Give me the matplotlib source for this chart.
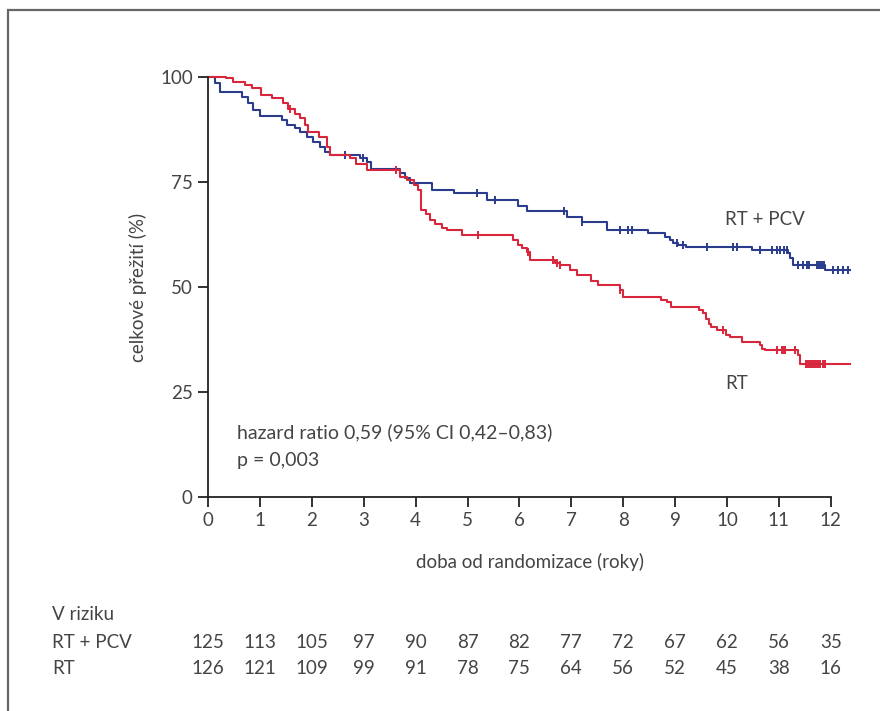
import numpy as np
import matplotlib
matplotlib.use("Agg")
import matplotlib.pyplot as plt
from matplotlib.transforms import blended_transform_factory
from matplotlib.patches import Rectangle

# Křivky přežití (čas v letech, přežití v %)
pcv_t = [0, 0.13, 0.23, 0.65, 0.78, 0.87, 1.00, 1.42, 1.52, 1.68, 1.77, 1.90, 2.03, 2.16,
         2.25, 2.35, 2.93, 3.06, 3.15, 3.70, 3.80, 3.89, 4.31, 4.73, 5.37, 5.98, 6.14, 6.91,
         7.20, 7.68, 8.47, 8.80, 8.90, 8.96, 9.05, 9.20, 10.48, 11.18, 11.22, 11.28, 11.88, 12.37]
pcv_s = [100, 98.5, 96.5, 95.3, 93.7, 92.1, 90.6, 89.8, 88.6, 87.8, 87.0, 85.8, 84.6, 83.4,
         82.2, 81.4, 80.6, 79.8, 78.2, 77.1, 75.9, 74.7, 73.1, 72.3, 70.7, 69.3, 68.0, 66.7,
         65.5, 63.6, 62.8, 62.0, 61.2, 60.4, 60.0, 59.6, 58.8, 58.0, 56.8, 55.2, 54.0, 54.0]
pcv_cens = [2.64, 2.99, 5.18, 5.53, 6.85, 7.20, 7.94, 8.10, 8.16, 9.03, 9.16, 9.61, 10.12,
            10.19, 10.64, 10.86, 10.96, 11.02, 11.09, 11.15, 11.37, 11.47, 11.54, 11.57,
            11.74, 11.77, 11.80, 11.83, 11.86, 12.05, 12.14, 12.24, 12.33]

rt_t = [0, 0.35, 0.49, 0.72, 0.85, 1.02, 1.24, 1.45, 1.55, 1.68, 1.77, 1.87, 1.93, 2.13,
        2.29, 2.35, 2.74, 2.86, 3.06, 3.70, 3.83, 3.96, 4.05, 4.10, 4.20, 4.28, 4.38, 4.50,
        4.60, 4.89, 5.88, 5.97, 6.05, 6.15, 6.20, 6.68, 6.78, 6.98, 7.10, 7.37, 7.52, 7.94,
        8.00, 8.72, 8.84, 8.93, 9.46, 9.54, 9.60, 9.65, 9.70, 9.80, 9.98, 10.06, 10.29,
        10.64, 10.68, 10.73, 11.37, 11.40, 12.37]
rt_s = [100, 99.7, 98.9, 98.1, 97.3, 95.7, 94.9, 93.7, 92.5, 91.3, 90.2, 88.6, 87.0, 85.8,
        83.4, 81.4, 80.6, 79.4, 77.9, 76.3, 75.5, 74.3, 73.0, 68.3, 67.3, 66.0, 64.9, 64.1,
        63.6, 62.4, 61.2, 60.0, 59.2, 58.4, 56.4, 55.6, 55.2, 54.0, 52.8, 51.5, 50.5, 49.3,
        47.7, 46.9, 46.5, 45.3, 44.5, 43.7, 42.5, 41.3, 40.5, 39.7, 38.5, 38.1, 36.9,
        36.1, 35.3, 34.9, 33.7, 31.7, 31.7]
rt_cens = [1.58, 3.63, 5.21, 6.17, 6.65, 6.72, 6.78, 7.94, 9.93, 10.96, 11.05, 11.09, 11.12,
           11.31, 11.52, 11.56, 11.60, 11.64, 11.68, 11.72, 11.76, 11.80, 11.84, 11.88]

# Počty pacientů v riziku
years = list(range(13))
risk_pcv = [125, 113, 105, 97, 90, 87, 82, 77, 72, 67, 62, 56, 35]
risk_rt = [126, 121, 109, 99, 91, 78, 75, 64, 56, 52, 45, 38, 16]

blue = '#2c3c8c'
red = '#d8263c'
txt = '#444444'
fs = 13.5

plt.rcParams['font.family'] = ['Lato', 'DejaVu Sans']
plt.rcParams['font.size'] = fs

W, H = 880, 711
fig = plt.figure(figsize=(W / 100, H / 100), dpi=100)

# rámeček kolem obrázku (pravý a dolní okraj mimo obrázek)
fig.patches.append(Rectangle((8 / W, -0.1), 1.1, (H - 10) / H + 0.1, transform=fig.transFigure,
                             fill=False, edgecolor='#666666', linewidth=1.6))

ax = fig.add_axes([208 / W, 1 - 497 / H, 643.6 / W, 420 / H])


def censor_levels(t, s, c):
    idx = np.searchsorted(t, c, side='right') - 1
    return np.asarray(s)[idx]


for t, s, c, col in [(pcv_t, pcv_s, pcv_cens, blue), (rt_t, rt_s, rt_cens, red)]:
    ax.step(t, s, where='post', color=col, linewidth=1.5, clip_on=False)
    ax.plot(c, censor_levels(t, s, c), linestyle='none', marker='|', markersize=6,
            markeredgewidth=1.4, color=col, clip_on=False)

ax.set_xlim(0, 12.4)
ax.set_ylim(0, 100)
ax.set_xticks(range(0, 13))
ax.set_yticks([0, 25, 50, 75, 100])
for side in ['top', 'right']:
    ax.spines[side].set_visible(False)
ax.spines['left'].set_bounds(0, 100)
ax.spines['bottom'].set_bounds(0, 12)
for side in ['left', 'bottom']:
    ax.spines[side].set_color('#222222')
    ax.spines[side].set_linewidth(1.3)
ax.tick_params(direction='out', length=7, width=1.3, color='#222222', labelcolor=txt,
               labelsize=fs, pad=4)

ax.set_ylabel('celkové přežití (%)', color=txt, fontsize=fs, labelpad=9)
ax.set_xlabel('doba od randomizace (roky)', color=txt, fontsize=fs, labelpad=17)

ax.text(9.96, 66, 'RT + PCV', color=txt, fontsize=fs, va='center')
ax.text(9.96, 27, 'RT', color=txt, fontsize=fs, va='center')
ax.text(0.56, 15.5, 'hazard ratio 0,59 (95% CI 0,42–0,83)', color=txt, fontsize=14, va='center')
ax.text(0.56, 8.8, 'p = 0,003', color=txt, fontsize=14, va='center')

# tabulka pacientů v riziku
tr = blended_transform_factory(ax.transData, fig.transFigure)
fig.text(52 / W, 1 - 615 / H, 'V riziku', color=txt, fontsize=fs, va='center')
fig.text(52 / W, 1 - 642 / H, 'RT + PCV', color=txt, fontsize=fs, va='center')
fig.text(52 / W, 1 - 668 / H, 'RT', color=txt, fontsize=fs, va='center')
for yr, a, b in zip(years, risk_pcv, risk_rt):
    ax.text(yr, 1 - 642 / H, str(a), transform=tr, ha='center', va='center',
            color=txt, fontsize=fs)
    ax.text(yr, 1 - 668 / H, str(b), transform=tr, ha='center', va='center',
            color=txt, fontsize=fs)

fig.savefig('out.png', dpi=100, facecolor='white')
plt.close(fig)
